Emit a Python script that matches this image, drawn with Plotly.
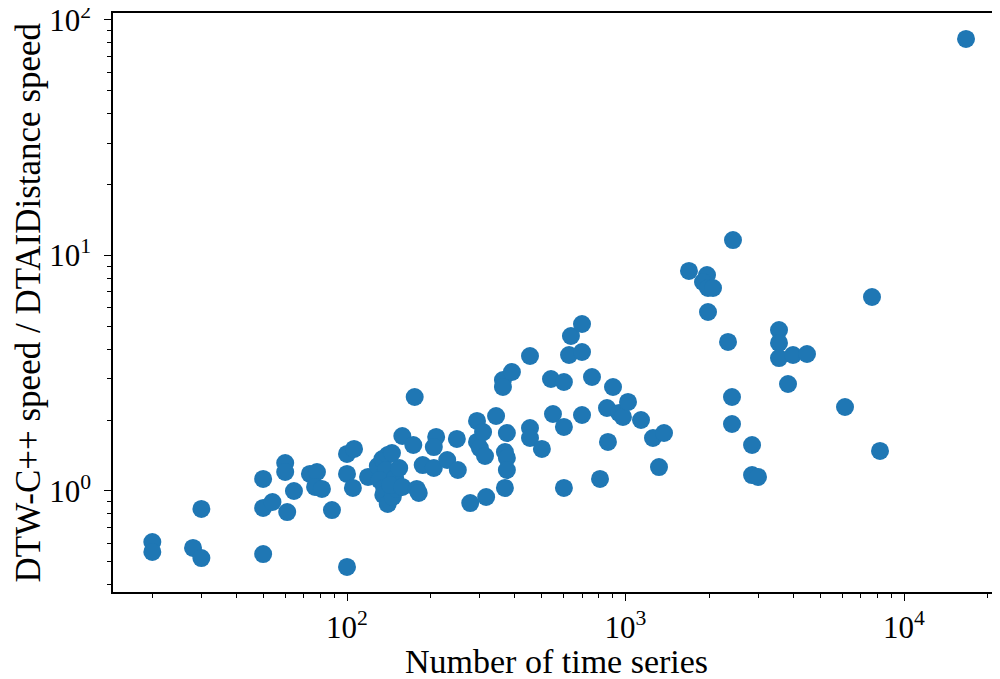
import plotly.graph_objects as go

# Number of time series (x) and speed ratio (y)
n_series = [
    20, 20, 30, 28, 30, 50, 50, 50, 54, 60, 60, 61, 64.5, 73.6, 78, 76.8, 81.3, 88.3,
    100, 100, 106, 100, 105,
    119, 129, 134, 140, 145, 138, 131, 136, 135, 140, 146, 151, 149, 154, 143, 158,
    178, 181, 158, 173, 187, 175,
    209, 205, 205, 229, 248, 250, 277, 293, 293, 308, 300, 313, 316, 343, 363, 363,
    391, 375, 369, 375, 375, 369, 454, 454, 454, 501, 540, 601, 549, 601, 601, 627,
    637, 698, 698, 698, 758, 858, 902, 948, 979, 1021, 1137, 865, 810, 1255, 1375,
    1319, 1690, 1962, 1898, 1978, 2062, 1978, 2432, 2334, 2412, 2412, 2847, 2847,
    2991, 3558, 3558, 3558, 3994, 4484, 3833, 6140, 7675, 8200, 16700,
]
speed_ratio = [
    0.607, 0.551, 0.839, 0.573, 0.519, 1.125, 0.847, 0.540, 0.898, 1.315, 1.204,
    0.814, 1.000, 1.181, 1.204, 1.040, 1.020, 0.830,
    0.476, 1.436, 1.508, 1.181, 1.030,
    1.147, 1.277, 1.367, 1.422, 1.450, 1.228, 1.113, 1.030, 0.962, 0.881, 0.943,
    1.020, 1.136, 1.252, 1.060, 1.040,
    1.020, 0.981, 1.712, 1.568, 1.289, 2.507,
    1.696, 1.537, 1.252, 1.354, 1.663, 1.228, 0.889, 1.983, 1.615, 1.780, 1.522,
    1.408, 0.943, 2.082, 2.960, 2.764,
    3.201, 1.763, 1.464, 1.381, 1.228, 1.030, 3.743, 1.851, 1.679, 1.508, 2.989,
    2.903, 2.123, 1.870, 1.030, 3.780,
    4.551, 5.118, 3.892, 2.102, 3.048, 2.251, 2.764, 2.144, 2.062, 2.388, 2.002,
    1.615, 1.125, 1.679, 1.763,
    1.264, 8.595, 8.264, 7.718, 7.278, 7.278, 5.755, 11.63, 4.293, 2.507, 1.925,
    1.568, 1.169,
    1.147, 4.827, 4.251, 3.670, 3.780, 3.817, 2.847, 2.273, 6.665, 1.479, 83.07,
]

x_tick_vals = [100, 1000, 10000]
x_tick_text = ["10<sup>2</sup>", "10<sup>3</sup>", "10<sup>4</sup>"]
y_tick_vals = [1, 10, 100]
y_tick_text = ["10<sup>0</sup>", "10<sup>1</sup>", "10<sup>2</sup>"]

x_title = "Number of time series"
y_title = "DTW-C++ speed / DTAIDistance speed"

x_minor = [m * 10 ** k for k in (1, 2, 3, 4) for m in range(2, 10)]
y_minor = [m * 10 ** k for k in (-1, 0, 1) for m in range(2, 10)]

FONT = "Liberation Serif"

fig = go.Figure()
fig.add_trace(go.Scatter(
    x=n_series, y=speed_ratio, mode="markers",
    marker=dict(color="#1f77b4", size=18, line=dict(width=0)),
    showlegend=False,
))

axis_common = dict(
    showgrid=False, zeroline=False, automargin=False,
    showline=True, linecolor="black", linewidth=1.6,
    ticks="outside", ticklen=7, tickwidth=1.4, tickcolor="black",
    tickfont=dict(family=FONT, size=31, color="black"),
    ticklabeloverflow="allow",
)

fig.update_xaxes(
    type="log", range=[1.1598, 4.3447],
    tickmode="array", tickvals=x_tick_vals, ticktext=x_tick_text,
    minor=dict(tickmode="array", tickvals=x_minor, ticks="outside", ticklen=4,
               tickwidth=1, tickcolor="black", showgrid=False),
    mirror=True,
    **axis_common,
)
fig.update_yaxes(
    type="log", range=[-0.4289, 2.0297],
    tickmode="array", tickvals=y_tick_vals, ticktext=y_tick_text,
    minor=dict(tickmode="array", tickvals=y_minor, ticks="outside", ticklen=4,
               tickwidth=1, tickcolor="black", showgrid=False),
    ticklabelstandoff=7,
    **axis_common,
)

fig.add_annotation(
    text=x_title, xref="paper", yref="paper", x=0.5, y=0, yshift=-69,
    xanchor="center", yanchor="middle", showarrow=False,
    font=dict(family=FONT, size=34, color="black"),
)
fig.add_annotation(
    text=y_title, xref="paper", yref="paper", x=0, y=0.5, xshift=-85,
    xanchor="center", yanchor="middle", textangle=-90, showarrow=False,
    font=dict(family=FONT, size=35, color="black"),
)

# page body has an 8px margin: size the figure so the plot area lands where it is in the reference
fig.update_layout(
    width=992, height=671,
    margin=dict(l=105, r=0, t=5, b=87),
    plot_bgcolor="white", paper_bgcolor="white",
)

fig.write_html("out.html")
